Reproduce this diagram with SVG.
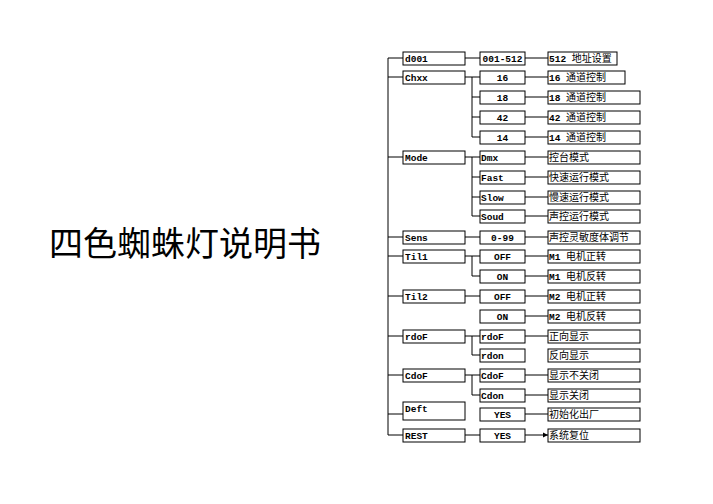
<svg xmlns="http://www.w3.org/2000/svg" width="713" height="504" viewBox="0 0 713 504">
<defs><marker id="a" markerWidth="6" markerHeight="6" refX="5" refY="3" orient="auto" markerUnits="userSpaceOnUse"><path d="M0,0.5 L5,3 L0,5.5z" fill="#000"/></marker></defs>
<style>
rect{fill:#fff;stroke:#000;stroke-width:1}
text{font-family:"Liberation Mono","Noto Sans CJK SC",monospace;font-weight:bold;font-size:9.5px;fill:#000}
.c{text-anchor:middle}
.z{font-family:"Noto Sans CJK SC",sans-serif;font-weight:normal;font-size:10px}
#conn path{fill:none;stroke:#000;stroke-width:1}
#conn .r{marker-end:url(#a)}
</style>
<rect x="0" y="0" width="713" height="504" style="stroke:none"/>
<text x="185" y="256" class="c" style="font-family:'Noto Sans CJK SC',sans-serif;font-weight:normal;font-size:34px">四色蜘蛛灯说明书</text>
<g id="conn">
<path d="M403,58H388V435H403M388,77H403M388,157H403M388,237H403M388,256H403M388,296H403M388,336H403M388,375H403M388,414H403"/>
<path d="M465,58H480M465,77H472M472,77V137M472,77H480M472,97H480M472,117H480M472,137H480"/>
<path d="M465,157H472V216M472,157H480M472,177H480M472,197H480M472,216H480"/>
<path d="M465,237H480M465,256H472V276H480M472,256H480M465,296H480M465,336H472V355H480M472,336H480M465,375H472V395H480M472,375H480M465,435H480"/>
<path class="r" d="M525,58H548M525,77H548M525,97H548M525,117H548M525,137H548M525,157H548M525,177H548M525,197H548M525,216H548M525,237H548M525,256H548M525,276H548M525,296H548M525,316H548M525,336H548M525,375H548M525,395H548M525,414H548M525,435H548"/>
</g>
<g id="n-left">
<rect x="403" y="52" width="62" height="13"/><text x="405" y="62">d001</text>
<rect x="403" y="71" width="62" height="13"/><text x="405" y="81">Chxx</text>
<rect x="403" y="151" width="62" height="13"/><text x="405" y="161">Mode</text>
<rect x="403" y="231" width="62" height="13"/><text x="405" y="241">Sens</text>
<rect x="403" y="250" width="62" height="13"/><text x="405" y="260">Til1</text>
<rect x="403" y="290" width="62" height="13"/><text x="405" y="300">Til2</text>
<rect x="403" y="330" width="62" height="13"/><text x="405" y="340">rdoF</text>
<rect x="403" y="369" width="62" height="13"/><text x="405" y="379">CdoF</text>
<rect x="403" y="402" width="62" height="18"/><text x="405" y="412">Deft</text>
<rect x="403" y="429" width="62" height="13"/><text x="405" y="439">REST</text>
</g>
<g id="n-mid">
<rect x="480" y="52" width="45" height="13"/><text x="502.5" y="62" class="c">001-512</text>
<rect x="480" y="71" width="45" height="13"/><text x="502.5" y="81" class="c">16</text>
<rect x="480" y="91" width="45" height="13"/><text x="502.5" y="101" class="c">18</text>
<rect x="480" y="111" width="45" height="13"/><text x="502.5" y="121" class="c">42</text>
<rect x="480" y="131" width="45" height="13"/><text x="502.5" y="141" class="c">14</text>
<rect x="480" y="151" width="45" height="13"/><text x="481" y="161">Dmx</text>
<rect x="480" y="171" width="45" height="13"/><text x="481" y="181">Fast</text>
<rect x="480" y="191" width="45" height="13"/><text x="481" y="201">Slow</text>
<rect x="480" y="210" width="45" height="13"/><text x="481" y="220">Soud</text>
<rect x="480" y="231" width="45" height="13"/><text x="502.5" y="241" class="c">0-99</text>
<rect x="480" y="250" width="45" height="13"/><text x="502.5" y="260" class="c">OFF</text>
<rect x="480" y="270" width="45" height="13"/><text x="502.5" y="280" class="c">ON</text>
<rect x="480" y="290" width="45" height="13"/><text x="502.5" y="300" class="c">OFF</text>
<rect x="480" y="310" width="45" height="13"/><text x="502.5" y="320" class="c">ON</text>
<rect x="480" y="330" width="45" height="13"/><text x="481" y="340">rdoF</text>
<rect x="480" y="349" width="45" height="13"/><text x="481" y="359">rdon</text>
<rect x="480" y="369" width="45" height="13"/><text x="481" y="379">CdoF</text>
<rect x="480" y="389" width="45" height="13"/><text x="481" y="399">Cdon</text>
<rect x="480" y="408" width="45" height="13"/><text x="502.5" y="418" class="c">YES</text>
<rect x="480" y="429" width="45" height="13"/><text x="502.5" y="439" class="c">YES</text>
</g>
<g id="n-right">
<rect x="548" y="52" width="69" height="13"/><text x="549" y="62">512 <tspan class="z">地址设置</tspan></text>
<rect x="548" y="71" width="77" height="13"/><text x="549" y="81">16 <tspan class="z">通道控制</tspan></text>
<rect x="548" y="91" width="92" height="13"/><text x="549" y="101">18 <tspan class="z">通道控制</tspan></text>
<rect x="548" y="111" width="92" height="13"/><text x="549" y="121">42 <tspan class="z">通道控制</tspan></text>
<rect x="548" y="131" width="92" height="13"/><text x="549" y="141">14 <tspan class="z">通道控制</tspan></text>
<rect x="548" y="151" width="92" height="13"/><text x="549" y="161" class="z">控台模式</text>
<rect x="548" y="171" width="92" height="13"/><text x="549" y="181" class="z">快速运行模式</text>
<rect x="548" y="191" width="92" height="13"/><text x="549" y="201" class="z">慢速运行模式</text>
<rect x="548" y="210" width="92" height="13"/><text x="549" y="220" class="z">声控运行模式</text>
<rect x="548" y="231" width="92" height="13"/><text x="549" y="241" class="z">声控灵敏度体调节</text>
<rect x="548" y="250" width="92" height="13"/><text x="549" y="260">M1 <tspan class="z">电机正转</tspan></text>
<rect x="548" y="270" width="92" height="13"/><text x="549" y="280">M1 <tspan class="z">电机反转</tspan></text>
<rect x="548" y="290" width="92" height="13"/><text x="549" y="300">M2 <tspan class="z">电机正转</tspan></text>
<rect x="548" y="310" width="92" height="13"/><text x="549" y="320">M2 <tspan class="z">电机反转</tspan></text>
<rect x="548" y="330" width="92" height="13"/><text x="549" y="340" class="z">正向显示</text>
<rect x="548" y="349" width="92" height="13"/><text x="549" y="359" class="z">反向显示</text>
<rect x="548" y="369" width="92" height="13"/><text x="549" y="379" class="z">显示不关闭</text>
<rect x="548" y="389" width="92" height="13"/><text x="549" y="399" class="z">显示关闭</text>
<rect x="548" y="408" width="92" height="13"/><text x="549" y="418" class="z">初始化出厂</text>
<rect x="548" y="429" width="92" height="13"/><text x="549" y="439" class="z">系统复位</text>
</g>
</svg>
